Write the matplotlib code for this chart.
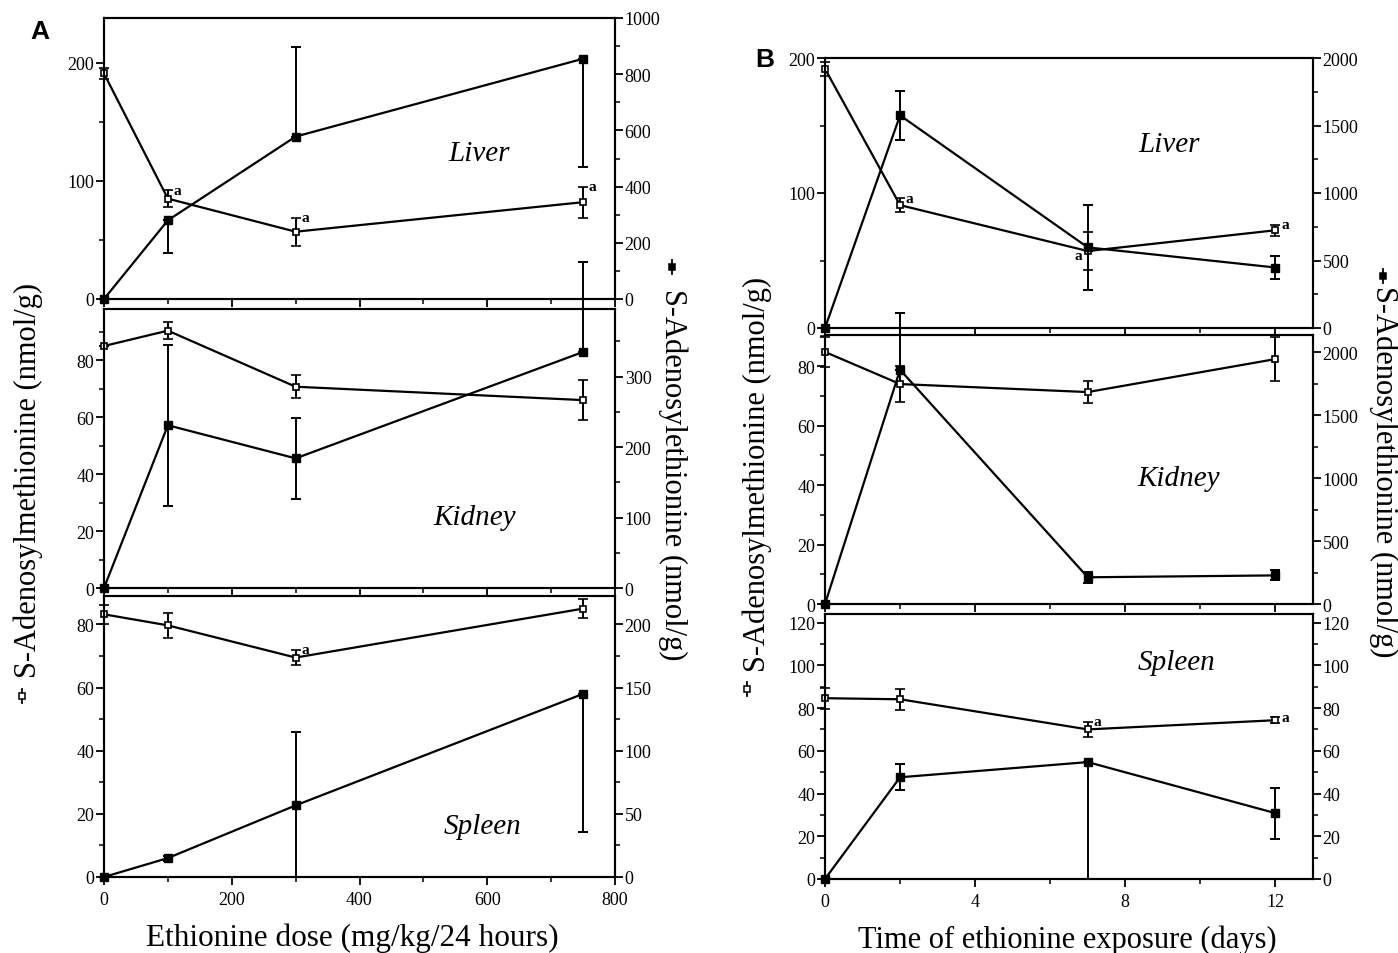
import matplotlib
matplotlib.use("Agg")
from matplotlib import pyplot as plt
from matplotlib.ticker import MultipleLocator, NullFormatter
from matplotlib.lines import Line2D

# x values
dose = [0, 100, 300, 750]
days = [0, 2, 7, 12]

# Panel A, liver
a_liver_sam = [191, 85, 57, 82]
a_liver_sam_err = [5, 7, 12, 13]
a_liver_sig = ['', 'r', 'r', 'r']
a_liver_sae = [0, 280, 578, 855]
a_liver_sae_lo = [0, 117, 0, 387]
a_liver_sae_hi = [0, 0, 320, 0]

# Panel A, kidney
a_kidney_sam = [85, 90.4, 70.7, 66]
a_kidney_sam_err = [0, 3, 4, 7]
a_kidney_sig = ['', '', '', '']
a_kidney_sae = [0, 231, 184, 335]
a_kidney_sae_lo = [0, 114, 58, 0]
a_kidney_sae_hi = [0, 114, 58, 128]

# Panel A, spleen
a_spleen_sam = [83.2, 79.7, 69.5, 85]
a_spleen_sam_err = [3, 4, 2.5, 3]
a_spleen_sig = ['', '', 'r', '']
a_spleen_sae = [0, 15, 56.7, 145]
a_spleen_sae_lo = [0, 2, 57, 109]
a_spleen_sae_hi = [0, 2, 58, 0]

# Panel B, liver
b_liver_sam = [192, 91, 57, 72.4]
b_liver_sam_err = [5, 5, 14, 4]
b_liver_sig = ['', 'r', 'l', 'r']
b_liver_sae = [0, 1575, 597, 448]
b_liver_sae_lo = [0, 180, 314, 82]
b_liver_sae_hi = [0, 180, 314, 82]

# Panel B, kidney
b_kidney_sam = [84.8, 74, 71.3, 82.4]
b_kidney_sam_err = [5, 6, 3.7, 7.5]
b_kidney_sig = ['', '', '', '']
b_kidney_sae = [0, 1859, 212, 227]
b_kidney_sae_lo = [0, 0, 45, 40]
b_kidney_sae_hi = [0, 447, 45, 40]

# Panel B, spleen
b_spleen_sam = [84.6, 84.1, 70, 74.3]
b_spleen_sam_err = [5, 5, 3.5, 1.5]
b_spleen_sig = ['', '', 'r', 'r']
b_spleen_sae = [0, 47.6, 54.7, 30.8]
b_spleen_sae_lo = [0, 6, 54.7, 12]
b_spleen_sae_hi = [0, 6, 0, 12]

SERIF = ['Liberation Serif', 'DejaVu Serif']
plt.rcParams['font.family'] = SERIF
plt.rcParams['axes.linewidth'] = 1.5

W, H = 1398, 954
fig = plt.figure(figsize=(W / 100, H / 100), dpi=100)


def box(l, t, r, b):
    return [l / W, 1 - b / H, (r - l) / W, (b - t) / H]


def unclip(cont):
    for art in cont.get_children():
        art.set_clip_on(False)


def organ(rect, x, sam, sam_err, sig, sae, lo, hi, lylim, lmaj, lmin,
          rylim, rmaj, rmin, xlim, xmaj, xmin, name, name_xy, bottom):
    ax = fig.add_axes(rect)
    ax2 = ax.twinx()
    c1 = ax.errorbar(x, sam, yerr=sam_err, fmt='-s', color='k', mfc='white',
                     mec='k', ms=5, mew=1.2, lw=1.6, elinewidth=1.4,
                     capsize=3.5, capthick=1.4)
    c2 = ax2.errorbar(x, sae, yerr=[lo, hi], fmt='-s', color='k', mfc='k',
                      mec='k', ms=5.5, lw=1.6, elinewidth=1.4,
                      capsize=3.5, capthick=1.4)
    unclip(c1)
    unclip(c2)
    for i, s in enumerate(sig):
        if s == 'r':
            ax.annotate('a', (x[i], sam[i] + sam_err[i]), xytext=(4, 0),
                        textcoords='offset points', fontsize=11,
                        fontweight='bold', va='center', ha='left')
        elif s == 'l':
            ax.annotate('a', (x[i], sam[i]), xytext=(-4, -3),
                        textcoords='offset points', fontsize=11,
                        fontweight='bold', va='center', ha='right')
    ax.set_xlim(xlim)
    ax.set_ylim(lylim)
    ax2.set_ylim(rylim)
    ax.xaxis.set_major_locator(MultipleLocator(xmaj))
    ax.xaxis.set_minor_locator(MultipleLocator(xmin))
    ax.yaxis.set_major_locator(MultipleLocator(lmaj))
    ax.yaxis.set_minor_locator(MultipleLocator(lmin))
    ax2.yaxis.set_major_locator(MultipleLocator(rmaj))
    ax2.yaxis.set_minor_locator(MultipleLocator(rmin))
    for a in (ax, ax2):
        a.tick_params(which='major', direction='out', length=6, width=1.3,
                      labelsize=13, pad=1)
        a.tick_params(which='minor', direction='out', length=3.5, width=1.1)
    if not bottom:
        ax.xaxis.set_major_formatter(NullFormatter())
    else:
        ax.tick_params(axis='x', pad=4)
    ax.text(name_xy[0], name_xy[1], name, transform=ax.transAxes,
            fontsize=21, style='italic', ha='center', va='center')
    return ax


# Panel A
organ(box(104, 19, 615, 300), dose, a_liver_sam, a_liver_sam_err, a_liver_sig,
      a_liver_sae, a_liver_sae_lo, a_liver_sae_hi,
      (0, 238), 100, 50, (0, 1000), 200, 100, (0, 800), 200, 100,
      'Liver', (0.735, 0.52), False)
organ(box(104, 310, 615, 589), dose, a_kidney_sam, a_kidney_sam_err, a_kidney_sig,
      a_kidney_sae, a_kidney_sae_lo, a_kidney_sae_hi,
      (0, 98), 20, 10, (0, 396), 100, 50, (0, 800), 200, 100,
      'Kidney', (0.725, 0.255), False)
organ(box(104, 597, 615, 878), dose, a_spleen_sam, a_spleen_sam_err, a_spleen_sig,
      a_spleen_sae, a_spleen_sae_lo, a_spleen_sae_hi,
      (0, 89), 20, 10, (0, 222.5), 50, 25, (0, 800), 200, 100,
      'Spleen', (0.74, 0.18), True)

# Panel B
organ(box(825, 59, 1313, 329), days, b_liver_sam, b_liver_sam_err, b_liver_sig,
      b_liver_sae, b_liver_sae_lo, b_liver_sae_hi,
      (0, 200), 100, 50, (0, 2000), 500, 250, (0, 13), 4, 2,
      'Liver', (0.705, 0.68), False)
organ(box(825, 336, 1313, 605), days, b_kidney_sam, b_kidney_sam_err, b_kidney_sig,
      b_kidney_sae, b_kidney_sae_lo, b_kidney_sae_hi,
      (0, 90.5), 20, 10, (0, 2135), 500, 250, (0, 13), 4, 2,
      'Kidney', (0.725, 0.47), False)
organ(box(825, 615, 1313, 880), days, b_spleen_sam, b_spleen_sam_err, b_spleen_sig,
      b_spleen_sae, b_spleen_sae_lo, b_spleen_sae_hi,
      (0, 124), 20, 10, (0, 124), 20, 10, (0, 13), 4, 2,
      'Spleen', (0.72, 0.82), True)

# axis titles
fig.text(352 / W, 1 - 938 / H, 'Ethionine dose (mg/kg/24 hours)', fontsize=22.5,
         ha='center', va='center')
fig.text(1067 / W, 1 - 940 / H, 'Time of ethionine exposure (days)', fontsize=22,
         ha='center', va='center')
fig.text(28 / W, 1 - 480 / H, 'S-Adenosylmethionine (nmol/g)', fontsize=22,
         rotation=90, ha='center', va='center')
fig.text(673 / W, 1 - 475 / H, 'S-Adenosylethionine (nmol/g)', fontsize=22,
         rotation=270, ha='center', va='center')
fig.text(757 / W, 1 - 474 / H, 'S-Adenosylmethionine (nmol/g)', fontsize=22,
         rotation=90, ha='center', va='center')
fig.text(1384 / W, 1 - 472 / H, 'S-Adenosylethionine (nmol/g)', fontsize=22,
         rotation=270, ha='center', va='center')


def key(px, py, filled):
    x, y = px / W, 1 - py / H
    fig.add_artist(Line2D([x, x], [y - 7 / H, y + 7 / H], color='k', lw=1.3,
                          transform=fig.transFigure))
    fig.add_artist(Line2D([x], [y], marker='s', ms=5, mec='k', mew=1.1,
                          mfc='k' if filled else 'white', transform=fig.transFigure))


key(22, 697, False)
key(672, 268, True)
key(747, 690, False)
key(1383, 277, True)

# panel letters
fig.text(40 / W, 1 - 32 / H, 'A', fontsize=19, fontweight='bold',
         family='Liberation Sans', ha='center', va='center')
fig.text(765 / W, 1 - 60 / H, 'B', fontsize=19, fontweight='bold',
         family='Liberation Sans', ha='center', va='center')

fig.savefig('out.png', dpi=100, facecolor='white')
